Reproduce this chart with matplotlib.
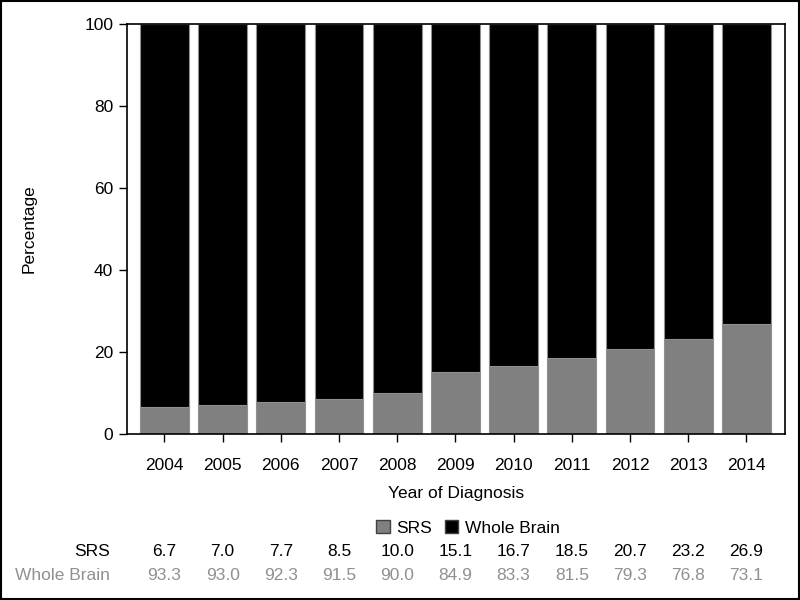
import matplotlib
matplotlib.use("Agg")
import matplotlib.pyplot as plt
from matplotlib.patches import Patch, Rectangle

plt.rcParams['font.family'] = ['Liberation Sans', 'DejaVu Sans']

years = ['2004', '2005', '2006', '2007', '2008', '2009', '2010', '2011', '2012', '2013', '2014']
srs = [6.7, 7.0, 7.7, 8.5, 10.0, 15.1, 16.7, 18.5, 20.7, 23.2, 26.9]
whole_brain = [93.3, 93.0, 92.3, 91.5, 90.0, 84.9, 83.3, 81.5, 79.3, 76.8, 73.1]
yticks = [0, 20, 40, 60, 80, 100]

srs_color = '#808080'
wb_color = '#000000'
fs = 12.5

fig = plt.figure(figsize=(8, 6), dpi=100)
ax = fig.add_axes([0.159, 0.2767, 0.822, 0.6833])
x = list(range(len(years)))
ax.bar(x, srs, width=0.84, color=srs_color, edgecolor='#909090', linewidth=0.8)
ax.bar(x, whole_brain, bottom=srs, width=0.84, color=wb_color, edgecolor='#909090', linewidth=0.8)
ax.set_xlim(-0.64, 10.66)
ax.set_ylim(0, 100)
ax.set_yticks(yticks)
ax.set_xticks(x)
ax.set_xticklabels(years, fontsize=fs)
ax.tick_params(axis='y', labelsize=fs, length=6, width=1, pad=4)
ax.tick_params(axis='x', length=6, width=1, pad=11)
for s in ax.spines.values():
    s.set_linewidth(1.2)
ax.set_xlabel('Year of Diagnosis', fontsize=fs)
ax.xaxis.set_label_coords(0.5, -(486 - 434) / 410, transform=ax.transAxes)
ax.set_ylabel('Percentage', fontsize=fs)
ax.yaxis.set_label_coords(-(127 - 36) / 658, 0.5)

handles = [Patch(facecolor=srs_color, edgecolor='#404040', label='SRS'),
           Patch(facecolor=wb_color, edgecolor='#404040', label='Whole Brain')]
fig.legend(handles=handles, loc='center', bbox_to_anchor=(0.585, 1 - 528 / 600), ncol=2,
           frameon=False, fontsize=fs, handlelength=0.8, handleheight=0.8,
           handletextpad=0.4, columnspacing=0.7)

trans = matplotlib.transforms.blended_transform_factory(ax.transData, fig.transFigure)
y1 = 1 - 552 / 600
y2 = 1 - 575 / 600
fig.text(110 / 800, y1, 'SRS', ha='right', va='center', fontsize=fs, color='black')
fig.text(110 / 800, y2, 'Whole Brain', ha='right', va='center', fontsize=fs, color='#909090')
for i in x:
    fig.text(i, y1, f'{srs[i]:.1f}', transform=trans, ha='center', va='center', fontsize=fs, color='black')
    fig.text(i, y2, f'{whole_brain[i]:.1f}', transform=trans, ha='center', va='center', fontsize=fs, color='#909090')

fig.patches.append(Rectangle((0.001, 0.001), 0.998, 0.998, transform=fig.transFigure,
                             fill=False, edgecolor='black', linewidth=1.5))

fig.savefig('out.png', dpi=100)
